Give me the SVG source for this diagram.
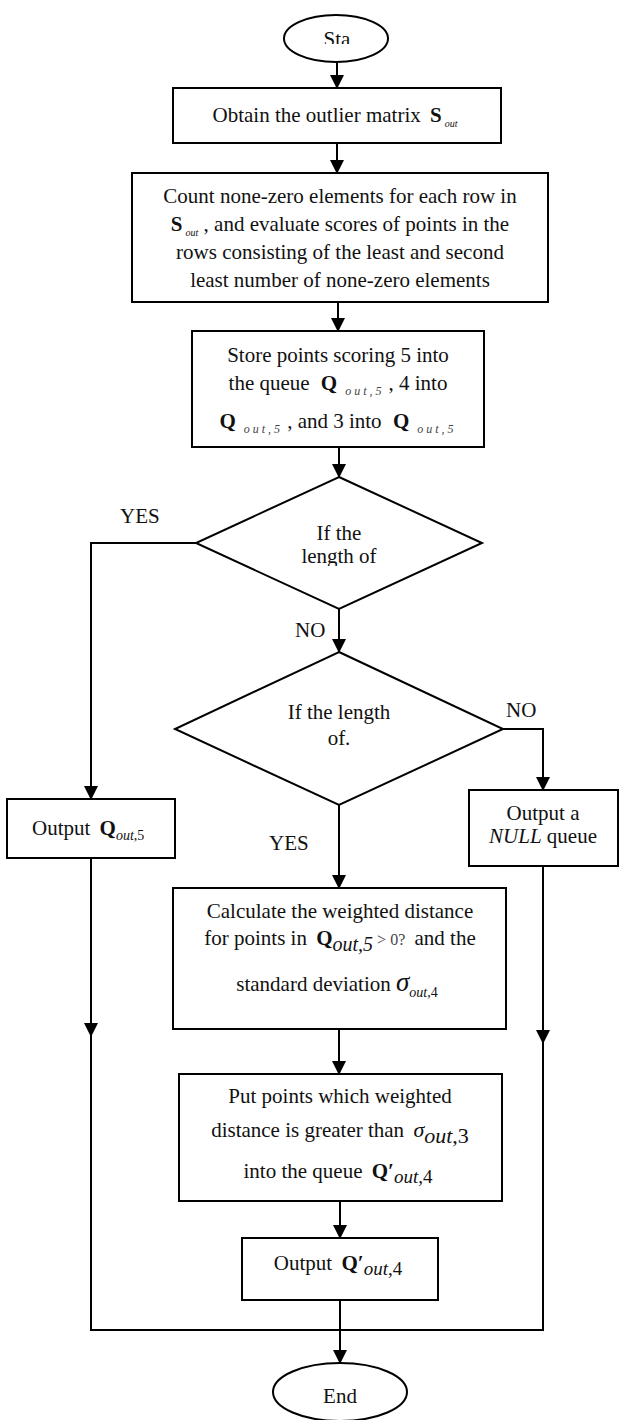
<svg xmlns="http://www.w3.org/2000/svg" width="619" height="1420" viewBox="0 0 619 1420">
<style>
.shape{fill:#fff;stroke:#000;stroke-width:2}
.conn{fill:none;stroke:#000;stroke-width:2}
text{font-family:"Liberation Serif","Times New Roman",serif;font-size:21px;fill:#111}
.c{text-anchor:middle}
.b{font-weight:bold}
.i{font-style:italic}
.s10{font-size:10px;font-style:italic}
.ss{font-size:12px;font-style:italic;letter-spacing:3px;fill:#444}
</style>
<defs>
<marker id="ah" markerWidth="14" markerHeight="14" refX="13" refY="7" orient="auto" markerUnits="userSpaceOnUse">
<path d="M0,0 L14,7 L0,14 z" fill="#000"/>
</marker>
<clipPath id="clipSta"><rect x="280" y="0" width="120" height="44"/></clipPath>
<clipPath id="clipD1"><rect x="250" y="500" width="180" height="66"/></clipPath>
</defs>

<g id="connectors">
<line class="conn" x1="337" y1="62" x2="337" y2="88" marker-end="url(#ah)"/>
<line class="conn" x1="337" y1="143" x2="337" y2="173" marker-end="url(#ah)"/>
<line class="conn" x1="338" y1="302" x2="338" y2="331" marker-end="url(#ah)"/>
<line class="conn" x1="339" y1="447" x2="339" y2="477" marker-end="url(#ah)"/>
<path class="conn" d="M196,543 H91 V799" marker-end="url(#ah)"/>
<line class="conn" x1="339" y1="609" x2="339" y2="652" marker-end="url(#ah)"/>
<path class="conn" d="M503,729 H543 V790" marker-end="url(#ah)"/>
<line class="conn" x1="339" y1="805" x2="339" y2="888" marker-end="url(#ah)"/>
<line class="conn" x1="339" y1="1029" x2="339" y2="1074" marker-end="url(#ah)"/>
<line class="conn" x1="340" y1="1201" x2="340" y2="1238" marker-end="url(#ah)"/>
<line class="conn" x1="340" y1="1300" x2="340" y2="1363" marker-end="url(#ah)"/>
<line class="conn" x1="91" y1="858" x2="91" y2="1036" marker-end="url(#ah)"/>
<line class="conn" x1="543" y1="866" x2="543" y2="1043" marker-end="url(#ah)"/>
<path class="conn" d="M91,1034 V1330 H543 V1041"/>
<text x="120" y="523">YES</text>
<text x="295" y="637">NO</text>
<text x="506" y="717">NO</text>
<text x="269" y="850">YES</text>
</g>

<g id="start">
<ellipse class="shape" cx="336" cy="38.5" rx="52" ry="23.5"/>
<text class="c" x="337" y="46" clip-path="url(#clipSta)">Sta</text>
</g>

<g id="obtain">
<rect class="shape" x="173" y="88" width="328" height="55"/>
<text class="c" x="335" y="122">Obtain the outlier matrix <tspan class="b" dx="4">S</tspan><tspan class="s10" dx="3" dy="5">out</tspan></text>
</g>

<g id="count">
<rect class="shape" x="132" y="173" width="416" height="129"/>
<text class="c" x="340" y="203">Count none-zero elements for each row in</text>
<text class="c" x="340" y="231"><tspan class="b">S</tspan><tspan class="s10" dx="3" dy="5">out</tspan><tspan dy="-5"> , and evaluate scores of points in the</tspan></text>
<text class="c" x="340" y="259">rows consisting of the least and second</text>
<text class="c" x="340" y="287">least number of none-zero elements</text>
</g>

<g id="store">
<rect class="shape" x="192" y="331" width="292" height="116"/>
<text class="c" x="338" y="362">Store points scoring 5 into</text>
<text class="c" x="338" y="390">the queue <tspan class="b" dx="6">Q</tspan><tspan class="ss" dx="8" dy="5">out,5</tspan><tspan dy="-5" dx="4">, 4 into</tspan></text>
<text class="c" x="338" y="428"><tspan class="b">Q</tspan><tspan class="ss" dx="8" dy="5">out,5</tspan><tspan dy="-5" dx="4">, and 3 into </tspan><tspan class="b" dx="6">Q</tspan><tspan class="ss" dx="8" dy="5">out,5</tspan></text>
</g>

<g id="decision1">
<polygon class="shape" points="339,477 482,543 339,609 196,543"/>
<text class="c" x="339" y="540">If the</text>
<text class="c" x="339" y="563" clip-path="url(#clipD1)">length of</text>
</g>

<g id="decision2">
<polygon class="shape" points="339,652 503,729 339,805 175,729"/>
<text class="c" x="339" y="719">If the length</text>
<text class="c" x="339" y="745">of.</text>
</g>

<g id="outQ5">
<rect class="shape" x="7" y="799" width="168" height="59"/>
<text x="32" y="835">Output <tspan class="b" dx="4">Q</tspan><tspan font-size="14" dy="5"><tspan class="i">out</tspan>,5</tspan></text>
</g>

<g id="outNull">
<rect class="shape" x="469" y="790" width="149" height="76"/>
<text class="c" x="543" y="820">Output a</text>
<text class="c" x="543" y="843"><tspan class="i">NULL</tspan> queue</text>
</g>

<g id="calc">
<rect class="shape" x="173" y="888" width="333" height="141"/>
<text class="c" x="340" y="918">Calculate the weighted distance</text>
<text class="c" x="340" y="945">for points in <tspan class="b" dx="4">Q</tspan><tspan class="i" font-size="20" dy="6">out,5</tspan><tspan font-size="16" fill="#444" dy="-6" dx="4">&gt; 0?</tspan><tspan dx="4"> and the</tspan></text>
<text class="c" x="337" y="991">standard deviation <tspan class="i" font-size="27">σ</tspan><tspan font-size="14" dy="6"><tspan class="i">out</tspan>,4</tspan></text>
</g>

<g id="put">
<rect class="shape" x="179" y="1074" width="323" height="127"/>
<text class="c" x="340" y="1103">Put points which weighted</text>
<text class="c" x="340" y="1137">distance is greater than <tspan class="i" font-size="22" dx="4">σ</tspan><tspan font-size="22" dy="6"><tspan class="i">out</tspan>,3</tspan></text>
<text class="c" x="338" y="1178">into the queue <tspan class="b" dx="4">Q′</tspan><tspan font-size="19" dy="5"><tspan class="i">out</tspan>,4</tspan></text>
</g>

<g id="outQ4">
<rect class="shape" x="242" y="1238" width="196" height="62"/>
<text class="c" x="338" y="1270">Output <tspan class="b" dx="4">Q′</tspan><tspan font-size="19" dy="5"><tspan class="i">out</tspan>,4</tspan></text>
</g>

<g id="end">
<ellipse class="shape" cx="340" cy="1392" rx="67" ry="29"/>
<text class="c" x="340" y="1403">End</text>
</g>
</svg>
